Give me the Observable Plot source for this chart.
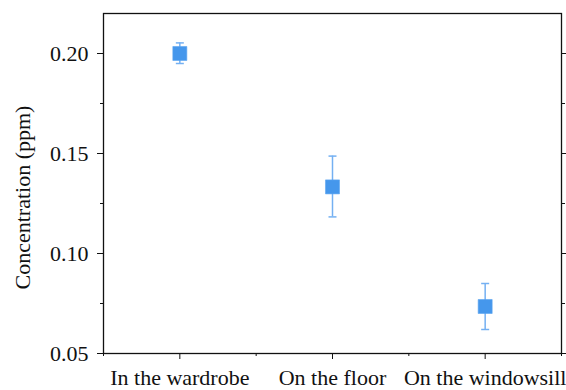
<!DOCTYPE html>
<html>
<head>
<meta charset="utf-8">
<script src="https://cdn.jsdelivr.net/npm/d3@7"></script>
<script src="https://cdn.jsdelivr.net/npm/@observablehq/plot@0.6"></script>
<style>
  html, body { margin: 0; padding: 0; background: #fff; }
</style>
</head>
<body>
<div id="chart"></div>
<script>
// Measured concentration at three locations, with error bar bounds
const locations = ["In the wardrobe", "On the floor", "On the windowsill"];
const concentration = [0.200, 0.1333, 0.0735];
const lower = [0.195, 0.1183, 0.062];
const upper = [0.2053, 0.1487, 0.085];
const yTitle = "Concentration (ppm)";

// Axis ticks
const yMajor = [0.05, 0.10, 0.15, 0.20];
const yMinor = [0.075, 0.125, 0.175];
const xMajor = [1, 2, 3];
const xMinor = [0.5, 1.5, 2.5, 3.5];

const rows = locations.map((name, i) => ({
  pos: i + 1,
  name,
  value: concentration[i],
  lo: lower[i],
  hi: upper[i]
}));

// Horizontal line used for the error bar caps
const capLine = {
  draw(context, size) {
    const w = Math.sqrt(size / Math.PI);
    context.moveTo(-w, 0);
    context.lineTo(w, 0);
  }
};

const barColor = "#74b0f2";
const pointColor = "#4597ec";
const noText = () => "";

const chart = Plot.plot({
  width: 566,
  height: 390,
  marginLeft: 103,
  marginRight: 5,
  marginTop: 13,
  marginBottom: 37,
  style: { fontFamily: "'Liberation Serif', 'Times New Roman', serif", fontSize: "22px", color: "#111", background: "#fff" },
  x: { domain: [0.5, 3.5] },
  y: { domain: [0.05, 0.22] },
  marks: [
    Plot.axisY(yMajor, { tickSize: 6, tickPadding: 9, tickFormat: ".2f", label: null }),
    Plot.axisY(yMinor, { tickSize: 3, tickFormat: noText, label: null }),
    Plot.axisY(yMajor, { anchor: "right", tickSize: 6, tickFormat: noText, label: null }),
    Plot.axisY(yMinor, { anchor: "right", tickSize: 3, tickFormat: noText, label: null }),
    Plot.axisX(xMajor, { tickSize: 6, tickPadding: 10, tickFormat: d => locations[d - 1], label: null }),
    Plot.axisX(xMinor, { tickSize: 3, tickFormat: noText, label: null }),
    Plot.axisX(xMajor.concat(xMinor), { anchor: "top", tickSize: 1, tickFormat: noText, label: null, stroke: "#999" }),
    Plot.text([yTitle], { text: d => d, frameAnchor: "left", rotate: -90, dx: -81, dy: 14, textAnchor: "middle", fill: "#111" }),
    Plot.frame({ stroke: "#111", strokeWidth: 1.3 }),
    Plot.ruleX(rows, { x: "pos", y1: "lo", y2: "hi", stroke: barColor, strokeWidth: 1.5 }),
    Plot.dot(rows, { x: "pos", y: "lo", symbol: capLine, r: 4, stroke: barColor, strokeWidth: 1.5 }),
    Plot.dot(rows, { x: "pos", y: "hi", symbol: capLine, r: 4, stroke: barColor, strokeWidth: 1.5 }),
    Plot.dot(rows, { x: "pos", y: "value", symbol: "square", r: 7.9, fill: pointColor, stroke: "#5aa4f0", strokeWidth: 0.6 })
  ]
});

document.getElementById("chart").appendChild(chart);
</script>
</body>
</html>
